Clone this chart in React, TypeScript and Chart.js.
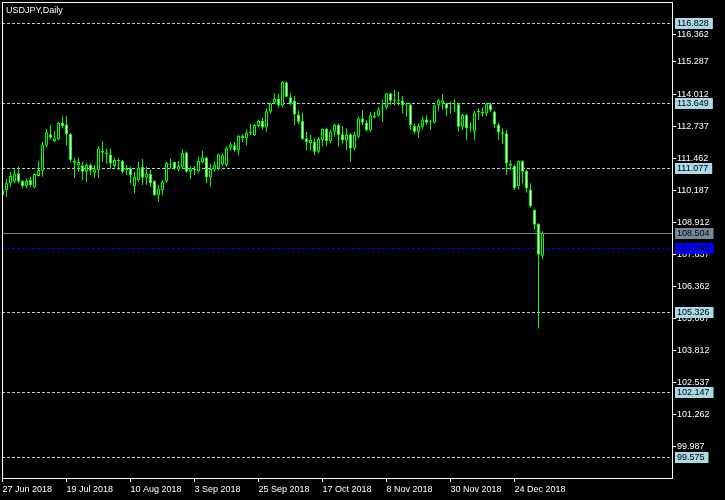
import React, { useEffect, useRef } from "react";
import { Chart, registerables } from "chart.js";

Chart.register(...registerables);

const title = "USDJPY,Daily";

const opens = [
  109.99, 110.19, 110.46, 110.52, 110.85, 110.55, 110.36, 110.59, 110.30, 110.75,
  110.96, 111.96, 112.41, 112.14, 112.21, 112.87, 112.80, 112.42, 111.36, 111.17,
  111.17, 110.92, 111.19, 110.88, 110.99, 111.68, 111.69, 111.61, 111.15, 111.34,
  111.35, 110.99, 111.05, 110.35, 110.59, 111.12, 110.68, 110.83, 110.55, 109.99,
  110.19, 110.52, 111.22, 111.31, 111.01, 111.12, 111.69, 110.92, 111.05, 110.95,
  111.31, 111.49, 110.70, 111.01, 111.05, 111.21, 111.19, 111.88, 111.98, 111.78,
  112.25, 112.25, 112.45, 112.38, 112.74, 112.94, 112.68, 113.31, 113.67, 113.84,
  113.57, 114.47, 113.88, 113.74, 113.20, 112.94, 112.25, 112.07, 112.11, 111.72,
  112.18, 112.62, 112.14, 112.51, 112.78, 112.41, 112.15, 112.41, 111.85, 112.31,
  113.04, 112.88, 112.58, 113.15, 113.15, 113.44, 113.48, 114.04, 113.75, 113.80,
  113.75, 113.60, 113.60, 112.74, 112.51, 112.71, 113.00, 112.91, 112.87, 113.57,
  113.64, 113.64, 113.44, 113.60, 113.61, 112.71, 113.18, 112.65, 112.51, 113.30,
  113.31, 113.24, 113.61, 113.31, 112.80, 112.49, 112.45, 111.16, 111.16, 110.35,
  111.35, 110.95, 110.22, 109.40, 108.84, 107.58,
];
const highs = [
  110.22, 110.62, 110.92, 111.05, 111.12, 110.59, 110.66, 110.72, 110.85, 111.35,
  112.11, 112.61, 112.78, 112.54, 112.90, 113.14, 113.14, 112.45, 111.49, 111.49,
  111.32, 111.25, 111.25, 111.19, 111.94, 112.14, 111.85, 111.85, 111.49, 111.45,
  111.39, 111.19, 111.12, 110.92, 111.32, 111.43, 111.12, 110.99, 110.59, 110.39,
  110.59, 111.32, 111.45, 111.32, 111.35, 111.82, 111.74, 111.12, 111.15, 111.52,
  111.76, 111.52, 111.23, 111.32, 111.65, 111.65, 111.94, 112.11, 112.11, 112.38,
  112.42, 112.58, 112.84, 112.82, 112.98, 113.08, 113.44, 113.67, 114.04, 114.01,
  114.53, 114.50, 114.06, 113.93, 113.35, 113.27, 112.51, 112.38, 112.25, 112.31,
  112.64, 112.68, 112.58, 112.84, 112.84, 112.74, 112.64, 112.45, 112.51, 113.11,
  113.37, 112.98, 113.31, 113.31, 113.51, 113.80, 114.06, 114.06, 114.17, 114.10,
  113.93, 113.67, 113.64, 112.84, 112.84, 113.11, 113.17, 112.98, 113.60, 113.84,
  114.01, 113.67, 113.71, 113.81, 113.67, 113.24, 113.22, 112.91, 113.33, 113.44,
  113.48, 113.67, 113.67, 113.35, 112.87, 112.64, 112.58, 111.38, 111.20, 111.38,
  111.38, 110.99, 110.46, 109.42, 108.88, 108.56,
];
const lows = [
  109.93, 109.93, 110.32, 110.46, 110.46, 110.26, 110.26, 110.32, 110.26, 110.72,
  110.72, 111.89, 112.21, 112.11, 112.18, 112.64, 111.98, 111.32, 110.68, 110.92,
  110.59, 110.52, 110.79, 110.68, 110.68, 111.32, 111.25, 111.05, 111.08, 110.99,
  110.85, 110.79, 110.46, 110.06, 110.52, 110.39, 110.39, 110.32, 109.97, 109.73,
  109.99, 110.48, 111.05, 110.99, 110.92, 111.05, 110.88, 110.63, 110.79, 110.88,
  111.25, 110.46, 110.32, 110.92, 110.99, 111.12, 111.12, 111.78, 111.72, 111.58,
  112.11, 111.98, 112.38, 112.34, 112.68, 112.60, 112.51, 113.24, 113.64, 113.48,
  113.48, 113.88, 113.57, 112.78, 112.82, 112.18, 111.78, 111.78, 111.58, 111.65,
  111.92, 111.94, 112.05, 112.31, 111.92, 112.05, 111.78, 111.32, 111.78, 112.25,
  112.78, 112.51, 112.51, 113.04, 113.11, 112.91, 113.40, 113.57, 113.57, 113.57,
  113.24, 113.11, 112.58, 112.41, 112.27, 112.60, 112.78, 112.58, 112.84, 113.35,
  113.40, 113.14, 113.24, 113.31, 112.51, 112.58, 112.18, 112.51, 112.18, 112.98,
  113.11, 113.14, 113.31, 112.65, 112.18, 112.02, 110.79, 110.99, 110.19, 110.22,
  110.46, 110.09, 109.49, 108.64, 104.69, 107.45,
];
const closes = [
  110.19, 110.46, 110.75, 110.85, 110.52, 110.36, 110.55, 110.39, 110.83, 110.99,
  111.98, 112.49, 112.27, 112.25, 112.87, 112.74, 112.41, 111.39, 111.28, 111.31,
  110.92, 111.19, 110.96, 111.01, 111.85, 111.76, 111.61, 111.25, 111.39, 111.39,
  110.92, 111.05, 110.79, 110.72, 111.08, 110.68, 110.85, 110.46, 109.99, 110.26,
  110.52, 111.28, 111.20, 111.05, 111.15, 111.68, 110.92, 111.05, 110.99, 111.35,
  111.49, 110.70, 111.03, 111.21, 111.62, 111.58, 111.89, 112.02, 111.78, 112.34,
  112.34, 112.47, 112.51, 112.78, 112.94, 112.68, 113.33, 113.64, 113.84, 113.57,
  114.50, 113.90, 113.64, 113.20, 112.91, 112.22, 112.11, 112.18, 111.72, 112.22,
  112.62, 112.14, 112.51, 112.78, 112.38, 112.18, 112.38, 111.85, 112.38, 113.04,
  112.87, 112.58, 113.17, 113.08, 113.40, 113.41, 114.04, 113.75, 113.80, 113.75,
  113.57, 113.56, 112.78, 112.51, 112.74, 113.00, 112.87, 112.89, 113.57, 113.77,
  113.77, 113.44, 113.45, 113.62, 112.71, 113.18, 112.65, 112.66, 113.28, 113.31,
  113.24, 113.61, 113.37, 112.80, 112.49, 112.43, 111.25, 111.25, 110.28, 111.35,
  110.92, 110.26, 109.56, 108.81, 107.63, 108.50,
];

const xTickIndex = [0, 16, 32, 48, 64, 80, 96, 112, 128];
const xTickLabels = [
  "27 Jun 2018", "19 Jul 2018", "10 Aug 2018", "3 Sep 2018", "25 Sep 2018",
  "17 Oct 2018", "8 Nov 2018", "30 Nov 2018", "24 Dec 2018",
];
const yTickValues = [
  116.362, 115.287, 114.012, 112.737, 111.462, 110.187, 108.912,
  107.637, 106.362, 105.087, 103.812, 102.537, 101.262, 99.987,
];
const levelLines = [116.828, 113.649, 111.077, 105.326, 102.147, 99.575];
const bidLine = 108.504;
const blueLine = 107.898;

const FONT_FAMILY = "'Liberation Sans', Arial, sans-serif";
const GREEN = "#00ff00";

const overlayPlugin = {
  id: "mt4Overlay",
  beforeDraw(chart: any) {
    const { ctx, width, height } = chart;
    ctx.save();
    ctx.fillStyle = "#000000";
    ctx.fillRect(0, 0, width, height);
    ctx.restore();
  },
  beforeDatasetsDraw(chart: any) {
    const { ctx, chartArea: a, scales } = chart;
    const y = scales.y;
    ctx.save();
    ctx.lineWidth = 1;
    const line = (v: number, color: string, dash: number[]) => {
      const py = Math.round(y.getPixelForValue(v)) + 0.5;
      ctx.strokeStyle = color;
      ctx.setLineDash(dash);
      ctx.beginPath();
      ctx.moveTo(a.left, py);
      ctx.lineTo(a.right, py);
      ctx.stroke();
    };
    levelLines.forEach((v) => line(v, "#add8e6", [3, 2]));
    line(bidLine, "#778899", []);
    line(blueLine, "#0000ff", [3, 2]);
    ctx.restore();
  },
  afterDraw(chart: any) {
    const { ctx, chartArea: a, scales } = chart;
    const y = scales.y;
    ctx.save();
    // frame
    ctx.strokeStyle = "#ffffff";
    ctx.lineWidth = 1;
    ctx.setLineDash([]);
    ctx.strokeRect(a.left + 0.5, a.top + 0.5, a.right - a.left, a.bottom - a.top);
    // title
    ctx.font = `9px ${FONT_FAMILY}`;
    ctx.fillStyle = "#ffffff";
    ctx.textBaseline = "alphabetic";
    ctx.textAlign = "left";
    ctx.fillText(title, 6, 13);
    // price boxes
    const box = (v: number, bg: string) => {
      const py = Math.round(y.getPixelForValue(v));
      const text = v.toFixed(3);
      const w = ctx.measureText(text).width;
      ctx.fillStyle = bg;
      ctx.fillRect(a.right + 3, py - 5, w + 6, 11);
      ctx.fillStyle = "#000000";
      ctx.textBaseline = "middle";
      ctx.fillText(text, a.right + 5, py + 1);
    };
    levelLines.forEach((v) => box(v, "#add8e6"));
    box(bidLine, "#778899");
    box(blueLine, "#0000ff");
    ctx.restore();
  },
};

export default function App() {
  const canvasRef = useRef<HTMLCanvasElement | null>(null);

  useEffect(() => {
    document.body.style.margin = "0";
    document.body.style.background = "#000000";
    const canvas = canvasRef.current;
    if (!canvas) return;

    const bodyColors = opens.map((o, i) => (closes[i] >= o ? "#000000" : "#ffffff"));
    const noPad = (s: any) => {
      s.paddingTop = 0;
      s.paddingBottom = 0;
      s.paddingLeft = 0;
      s.paddingRight = 0;
    };

    const chart = new Chart(canvas, {
      type: "bar",
      data: {
        datasets: [
          {
            label: "body",
            data: opens.map((o, i) => ({ x: i, y: [o, closes[i]] })) as any,
            backgroundColor: bodyColors,
            borderColor: GREEN,
            borderWidth: 1,
            borderSkipped: false,
            barThickness: 3,
            maxBarThickness: 3,
            minBarLength: 1,
            grouped: false,
            inflateAmount: 0,
            order: 0,
          } as any,
          {
            label: "wick",
            data: lows.map((l, i) => ({ x: i, y: [l, highs[i]] })) as any,
            backgroundColor: GREEN,
            borderWidth: 0,
            barThickness: 1,
            maxBarThickness: 1,
            grouped: false,
            inflateAmount: 0,
            order: 1,
          } as any,
        ],
      },
      options: {
        animation: false,
        responsive: false,
        devicePixelRatio: 1,
        events: [],
        layout: { padding: { left: 2, top: 2, right: 0, bottom: 0 } },
        plugins: {
          legend: { display: false },
          tooltip: { enabled: false },
          title: { display: false },
        },
        scales: {
          x: {
            type: "linear",
            bounds: "data",
            min: -0.125,
            max: 167.375,
            offset: false,
            grid: {
              display: true,
              offset: false,
              drawOnChartArea: false,
              drawTicks: true,
              tickLength: 4,
              color: "#ffffff",
              lineWidth: 1,
            },
            border: { display: false },
            ticks: {
              color: "#ffffff",
              font: { size: 9, family: FONT_FAMILY },
              align: "start",
              maxRotation: 0,
              minRotation: 0,
              autoSkip: false,
              padding: 2,
              callback: (v: any) => {
                const k = xTickIndex.indexOf(Number(v));
                return k >= 0 ? xTickLabels[k] : "";
              },
            },
            afterBuildTicks: (s: any) => {
              s.ticks = xTickIndex.map((v) => ({ value: v }));
            },
            afterFit: (s: any) => {
              s.height = 22;
              noPad(s);
            },
          } as any,
          y: {
            type: "linear",
            position: "right",
            bounds: "data",
            min: 98.742,
            max: 117.673,
            grid: {
              display: true,
              drawOnChartArea: false,
              drawTicks: true,
              tickLength: 4,
              color: "#ffffff",
              lineWidth: 1,
            },
            border: { display: false },
            ticks: {
              color: "#ffffff",
              font: { size: 9, family: FONT_FAMILY },
              padding: 1,
              autoSkip: false,
              callback: (v: any) => Number(v).toFixed(3),
            },
            afterBuildTicks: (s: any) => {
              s.ticks = yTickValues.map((v) => ({ value: v }));
            },
            afterFit: (s: any) => {
              s.width = 53;
              noPad(s);
            },
          } as any,
        },
      },
      plugins: [overlayPlugin],
    });

    return () => {
      chart.destroy();
    };
  }, []);

  return (
    <div style={{ width: 725, height: 500, background: "#000000" }}>
      <canvas ref={canvasRef} width={725} height={500} style={{ display: "block" }} />
    </div>
  );
}
